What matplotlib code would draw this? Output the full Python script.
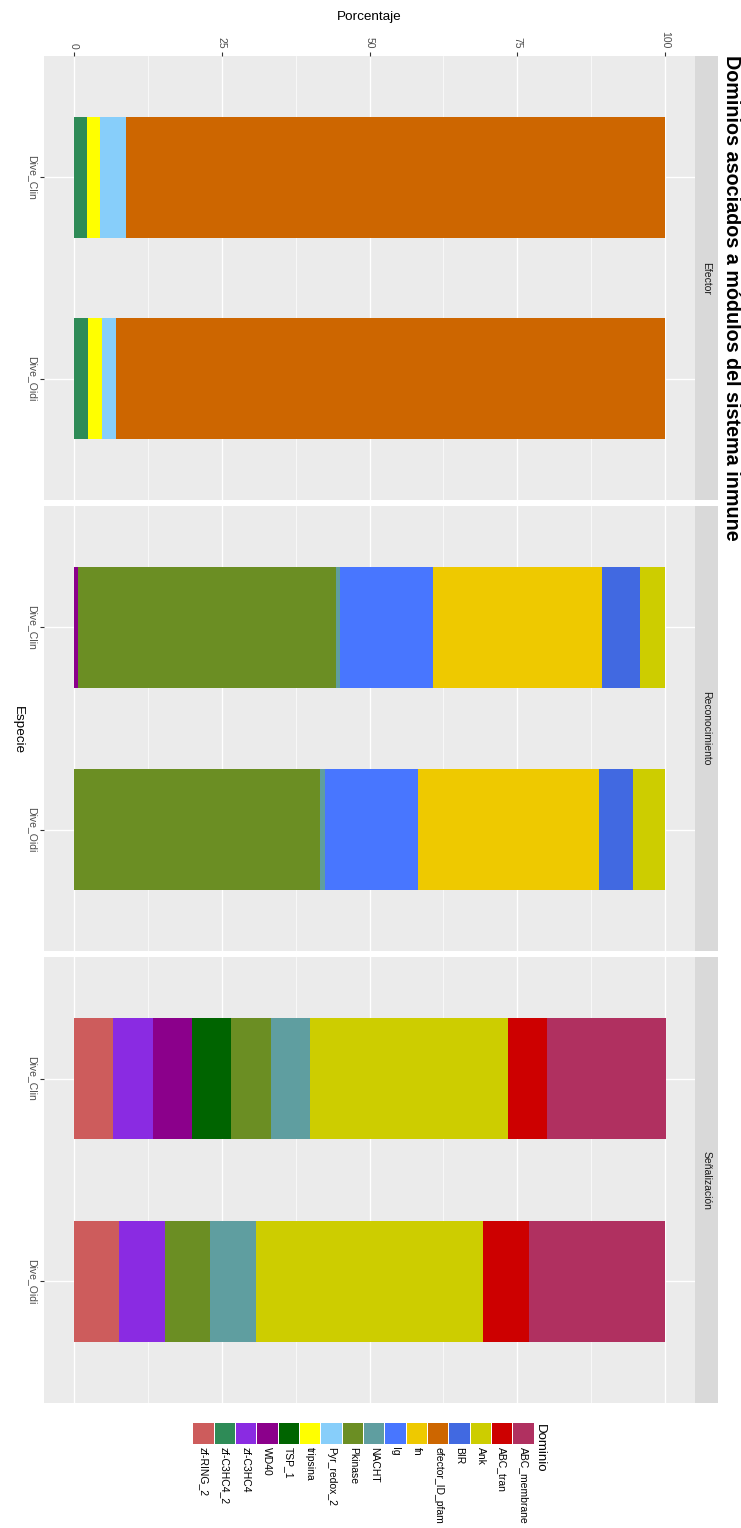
import numpy as np
import matplotlib
matplotlib.use("Agg")
import matplotlib.pyplot as plt
from matplotlib.patches import Rectangle

plt.rcParams['font.family'] = ['Liberation Sans', 'DejaVu Sans']

# ---- data -------------------------------------------------------------
especies = ["Dive_Clin", "Dive_Oidi"]
modulos = ["Efector", "Reconocimiento", "Señalización"]

# factor levels of the fill scale (first level stacks at the far end)
dominios = ["ABC_membrane", "ABC_tran", "Ank", "BIR", "efector_ID_pfam", "fn",
            "Ig", "NACHT", "Pkinase", "Pyr_redox_2", "tripsina", "TSP_1",
            "WD40", "zf-C3HC4", "zf-C3HC4_2", "zf-RING_2"]
colores = ["#B03060", "#CD0000", "#CDCD00", "#4169E1", "#CD6600", "#EEC900",
           "#4876FF", "#5F9EA0", "#6B8E23", "#87CEFA", "#FFFF00", "#006400",
           "#8B008B", "#8A2BE2", "#2E8B57", "#CD5C5C"]

# percentages per module, stacked from 0 upwards in the listed order
efector_dom = ["zf-C3HC4_2", "tripsina", "Pyr_redox_2", "efector_ID_pfam"]
efector_clin = [2.22, 2.22, 4.44, 91.12]
efector_oidi = [2.38, 2.38, 2.38, 92.86]

reconoc_dom = ["WD40", "Pkinase", "NACHT", "Ig", "fn", "BIR", "Ank"]
reconoc_clin = [0.8, 43.5, 0.7, 15.7, 28.6, 6.4, 4.3]
reconoc_oidi = [0.0, 41.6, 0.9, 15.7, 30.6, 5.7, 5.5]

senal_dom = ["zf-RING_2", "zf-C3HC4", "WD40", "TSP_1", "Pkinase", "NACHT",
             "Ank", "ABC_tran", "ABC_membrane"]
senal_clin = [6.67, 6.67, 6.67, 6.67, 6.67, 6.67, 33.33, 6.67, 20.00]
senal_oidi = [7.69, 7.69, 0.0, 0.0, 7.69, 7.69, 38.46, 7.69, 23.08]

porcentaje_ticks = [0, 25, 50, 75, 100]

# ---- layout (pixels) --------------------------------------------------
W, H = 741, 1528
fig = plt.figure(figsize=(W / 100, H / 100), dpi=100)
fig.patch.set_facecolor("white")


def rect(x0, y0, x1, y1):
    return [x0 / W, 1 - y1 / H, (x1 - x0) / W, (y1 - y0) / H]


panel_x = (44, 695)
panel_y = [(56, 500), (506, 951), (957, 1403)]
strip_x = (695, 718)

color_map = dict(zip(dominios, colores))
paneles = [
    (efector_dom, efector_clin, efector_oidi),
    (reconoc_dom, reconoc_clin, reconoc_oidi),
    (senal_dom, senal_clin, senal_oidi),
]

small = 7.5
for k, (modulo, (doms, clin, oidi)) in enumerate(zip(modulos, paneles)):
    y0, y1 = panel_y[k]
    ax = fig.add_axes(rect(panel_x[0], y0, panel_x[1], y1))
    ax.set_facecolor("#EBEBEB")
    for s in ax.spines.values():
        s.set_visible(False)

    ypos = np.arange(len(especies))
    vals = np.array([clin, oidi], dtype=float)  # shape (species, domains)
    left = np.zeros(len(especies))
    for j, d in enumerate(doms):
        w = vals[:, j]
        ax.barh(ypos, w, left=left, height=0.6, color=color_map[d],
                linewidth=0, zorder=3)
        left = left + w

    ax.set_xlim(-5, 105)
    ax.set_ylim(1.6, -0.6)
    ax.set_xticks(porcentaje_ticks)
    ax.set_xticks([12.5, 37.5, 62.5, 87.5], minor=True)
    ax.set_yticks(ypos)
    ax.set_yticklabels(especies, rotation=270, va="center", ha="right",
                       fontsize=small, color="#4D4D4D")
    ax.grid(which="major", color="white", linewidth=1.0, zorder=0)
    ax.grid(which="minor", axis="x", color="white", linewidth=0.5, zorder=0)
    ax.set_axisbelow(True)
    ax.tick_params(axis="y", which="both", length=3.2, width=0.8,
                   color="#333333", pad=2)
    ax.tick_params(axis="x", which="minor", length=0)
    if k == 0:
        ax.xaxis.tick_top()
        ax.set_xticklabels([str(t) for t in porcentaje_ticks], rotation=270,
                           ha="center", va="bottom", fontsize=small,
                           color="#4D4D4D")
        ax.tick_params(axis="x", which="major", length=3.2, width=0.8,
                       color="#333333", pad=2)
    else:
        ax.tick_params(axis="x", which="major", length=0, labelbottom=False,
                       labeltop=False)

    # facet strip
    sax = fig.add_axes(rect(strip_x[0], y0, strip_x[1], y1))
    sax.set_facecolor("#D9D9D9")
    sax.set_xticks([])
    sax.set_yticks([])
    for s in sax.spines.values():
        s.set_visible(False)
    sax.text(0.5, 0.5, modulo, rotation=270, ha="center", va="center",
             fontsize=small, color="#1A1A1A", transform=sax.transAxes)

# ---- overlay in pixel coordinates for titles and legend ---------------
ov = fig.add_axes([0, 0, 1, 1], zorder=-1)
ov.set_xlim(0, W)
ov.set_ylim(H, 0)
ov.axis("off")

ov.text(731, 55, "Dominios asociados a módulos del sistema inmune",
        rotation=270, ha="center", va="top", fontsize=14.2,
        fontweight="bold", color="black")
ov.text((panel_x[0] + panel_x[1]) / 2, 17, "Porcentaje", ha="center",
        va="center", fontsize=9.7, color="black")
ov.text(18, (panel_y[0][0] + panel_y[-1][1]) / 2, "Especie", rotation=270,
        ha="center", va="center", fontsize=9.7, color="black")

# legend: keys laid out left to right, last level first
leg_order = list(reversed(dominios))
key_x0, key_pitch, key_w = 193.3, 21.33, 20.3
key_y0, key_h = 1423, 21
for i, d in enumerate(leg_order):
    x0 = key_x0 + i * key_pitch
    ov.add_patch(Rectangle((x0, key_y0), key_w, key_h,
                           facecolor=color_map[d], edgecolor="none"))
    ov.text(x0 + key_w / 2, 1447, d, rotation=270, ha="center", va="top",
            fontsize=small, color="black")
ov.text(539.5, 1424, "Dominio", rotation=270, ha="center", va="top",
        fontsize=9.5, color="black")

fig.savefig("out.png", dpi=100)
